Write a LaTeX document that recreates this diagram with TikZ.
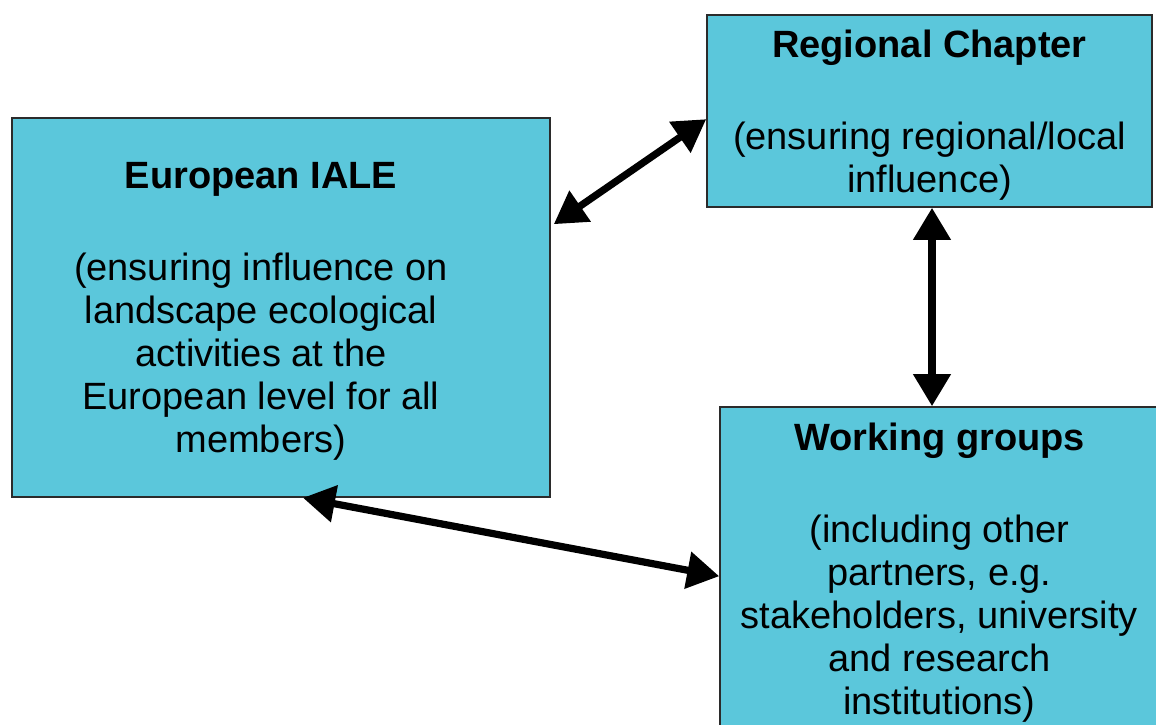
\documentclass[tikz,border=0pt]{standalone}
\usepackage{fontspec}
\setmainfont{Liberation Sans}
\usepackage{xcolor}
\usepackage{tikz}
\usetikzlibrary{positioning,calc,arrows.meta}

\definecolor{boxcyan}{HTML}{5BC7DB}
\definecolor{boxline}{HTML}{2B2B2B}

\begin{document}
\begin{tikzpicture}[
    x=1pt, y=1pt,
    unit/.style={draw=boxline, line width=0.8pt, fill=boxcyan, rectangle, inner sep=0pt},
    blurb/.style={align=center, inner sep=0pt, font=\fontsize{19}{21.5}\selectfont},
    link/.style={{Triangle[length=16pt,width=18pt]}-{Triangle[length=16pt,width=18pt]}, line width=3.6pt, black}
]
    \useasboundingbox (0,0) rectangle (578,-362);
    \clip (0,0) rectangle (578,-362);

    % Boxes
    \node [unit, minimum width=269pt, minimum height=189.5pt] (eu) at (140.5,-153.75) {};
    \node [unit, minimum width=222.5pt, minimum height=96pt] (rc) at (464.75,-55.5) {};
    \node [unit, minimum width=219.5pt, minimum height=160.5pt] (wg) at (469.75,-283.75) {};

    % Texts
    \node [blurb] (eutext) at ([xshift=-10pt,yshift=-2pt]eu.center)
        {\textbf{European IALE}\\[24.5pt](ensuring influence on\\landscape ecological\\activities at the\\European level for all\\members)};
    \node [blurb] (rctext) at ([yshift=-2pt]rc.center)
        {\textbf{Regional Chapter}\\[24.5pt](ensuring regional/local\\influence)};
    \node [blurb] (wgtext) at ([yshift=-2.5pt]wg.center)
        {\textbf{Working groups}\\[24.5pt](including other\\partners, e.g.\\stakeholders, university\\and research\\institutions)};

    % Links
    \draw [link] ([xshift=1.5pt,yshift=-53.5pt]eu.north east) -- ([yshift=-52.5pt]rc.north west);
    \draw [link] ([xshift=1.25pt]rc.south) -- ([xshift=1.25pt]rc.south |- wg.north);
    \draw [link] ([xshift=11pt]eu.south) -- ([yshift=-85pt]wg.north west);
\end{tikzpicture}
\end{document}
